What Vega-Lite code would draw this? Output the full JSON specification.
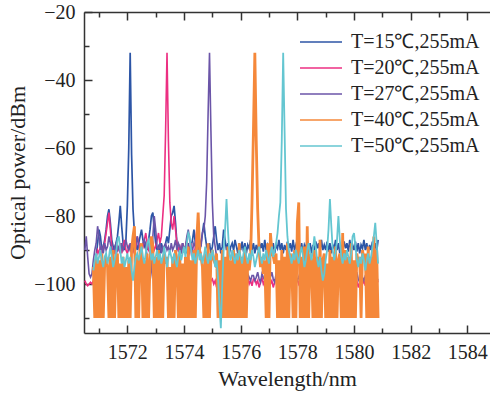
{
"$schema":"https://vega.github.io/schema/vega-lite/v6.json",
"width":406,"height":321,"autosize":"none",
"padding":{"left":84,"top":12,"right":0,"bottom":61},
"config":{"view":{"stroke":null},"font":"Liberation Serif",
"axis":{"labelFont":"Liberation Serif","labelFontSize":20,"labelColor":"#222","titleFont":"Liberation Serif","titleFontSize":22,"titleFontWeight":"normal","titleColor":"#222","domainColor":"#333","tickColor":"#333","domainWidth":1.5,"tickWidth":1.5,"grid":false},
"legend":{"labelFont":"Liberation Serif","labelFontSize":20,"labelColor":"#222"}},
"data":{"values":[
{"w":1570.50,"b":-99,"c":-90},
{"w":1570.55,"b":-100,"c":-86},
{"w":1570.60,"b":-100.5,"c":-92},
{"w":1570.65,"b":-100,"c":-97},
{"w":1570.70,"b":-99.5,"c":-98},
{"w":1570.75,"b":-100,"c":-97},
{"w":1570.80,"b":-99,"c":-93,"d":-95,"e":-96},
{"w":1570.85,"b":-96,"c":-90,"d":-110,"e":-93},
{"w":1570.90,"a":-92,"b":-92,"c":-88,"d":-92,"e":-91},
{"w":1570.95,"a":-88,"b":-90,"c":-83,"d":-110,"e":-94},
{"w":1571.00,"a":-84,"b":-91,"c":-86,"d":-93,"e":-92},
{"w":1571.05,"a":-86,"b":-89,"c":-90,"d":-110,"e":-90},
{"w":1571.10,"a":-90,"b":-91,"c":-89,"d":-91,"e":-93},
{"w":1571.15,"a":-89,"b":-90,"c":-91,"d":-110,"e":-95},
{"w":1571.20,"a":-87,"b":-88,"c":-88,"d":-94,"e":-92},
{"w":1571.25,"a":-84,"b":-85,"c":-90,"d":-92,"e":-91},
{"w":1571.30,"a":-80,"b":-82,"c":-89,"d":-95,"e":-94},
{"w":1571.35,"a":-78,"b":-79,"c":-86,"d":-110,"e":-92},
{"w":1571.40,"a":-82,"b":-84,"c":-88,"d":-92,"e":-89},
{"w":1571.45,"a":-87,"b":-89,"c":-90,"d":-110,"e":-92},
{"w":1571.50,"a":-89,"b":-91,"c":-91,"d":-90,"e":-95},
{"w":1571.55,"a":-91,"b":-90,"c":-89,"d":-110,"e":-93},
{"w":1571.60,"a":-88,"b":-92,"c":-88,"d":-93,"e":-91},
{"w":1571.65,"a":-86,"b":-89,"c":-90,"d":-91,"e":-87},
{"w":1571.70,"a":-82,"b":-90,"c":-89,"d":-110,"e":-86},
{"w":1571.75,"a":-77,"b":-88,"c":-91,"d":-94,"e":-90},
{"w":1571.80,"a":-83,"b":-91,"c":-88,"d":-110,"e":-94},
{"w":1571.85,"a":-88,"b":-89,"c":-90,"d":-92,"e":-92},
{"w":1571.90,"a":-90,"b":-87,"c":-89,"d":-110,"e":-95},
{"w":1571.95,"a":-87,"b":-90,"c":-87,"d":-95,"e":-93},
{"w":1572.00,"a":-77,"b":-91,"c":-89,"d":-110,"e":-91},
{"w":1572.05,"a":-60,"b":-89,"c":-90,"d":-93,"e":-94},
{"w":1572.10,"a":-32,"b":-90,"c":-88,"d":-110,"e":-92},
{"w":1572.15,"a":-62,"b":-88,"c":-91,"d":-90,"e":-96},
{"w":1572.20,"a":-78,"b":-90,"c":-89,"d":-86,"e":-99},
{"w":1572.25,"a":-85,"b":-91,"c":-90,"d":-83,"e":-95},
{"w":1572.30,"a":-88,"b":-89,"c":-88,"d":-110,"e":-92},
{"w":1572.35,"a":-90,"b":-86,"c":-86,"d":-92,"e":-91},
{"w":1572.40,"a":-88,"b":-88,"c":-89,"d":-110,"e":-93},
{"w":1572.45,"a":-86,"b":-90,"c":-91,"d":-90,"e":-91},
{"w":1572.50,"a":-84,"b":-91,"c":-90,"d":-88,"e":-89},
{"w":1572.55,"a":-87,"b":-89,"c":-88,"d":-110,"e":-92},
{"w":1572.60,"a":-89,"b":-87,"c":-87,"d":-93,"e":-94},
{"w":1572.65,"a":-88,"b":-85,"c":-89,"d":-110,"e":-91},
{"w":1572.70,"a":-90,"b":-88,"c":-92,"d":-91,"e":-88},
{"w":1572.75,"a":-87,"b":-90,"c":-95,"d":-110,"e":-87},
{"w":1572.80,"a":-84,"b":-91,"c":-99,"d":-94,"e":-90},
{"w":1572.85,"a":-80,"b":-89,"c":-96,"d":-86,"e":-93},
{"w":1572.90,"a":-79,"b":-88,"c":-86,"d":-89,"e":-91},
{"w":1572.95,"a":-84,"b":-90,"c":-80,"d":-110,"e":-94},
{"w":1573.00,"a":-88,"b":-89,"c":-84,"d":-92,"e":-92},
{"w":1573.05,"a":-90,"b":-87,"c":-89,"d":-110,"e":-90},
{"w":1573.10,"a":-89,"b":-85,"c":-90,"d":-90,"e":-93},
{"w":1573.15,"a":-91,"b":-88,"c":-88,"d":-110,"e":-91},
{"w":1573.20,"a":-88,"b":-86,"c":-91,"d":-93,"e":-94},
{"w":1573.25,"a":-90,"b":-80,"c":-89,"d":-110,"e":-92},
{"w":1573.30,"a":-89,"b":-74,"c":-90,"d":-91,"e":-89},
{"w":1573.35,"a":-88,"b":-55,"c":-88,"d":-94,"e":-92},
{"w":1573.40,"a":-86,"b":-32,"c":-90,"d":-92,"e":-95},
{"w":1573.45,"a":-88,"b":-58,"c":-89,"d":-110,"e":-92},
{"w":1573.50,"a":-84,"b":-76,"c":-91,"d":-95,"e":-90},
{"w":1573.55,"a":-80,"b":-82,"c":-88,"d":-110,"e":-92},
{"w":1573.60,"a":-79,"b":-84,"c":-90,"d":-92,"e":-94},
{"w":1573.65,"a":-77,"b":-80,"c":-89,"d":-110,"e":-91},
{"w":1573.70,"a":-82,"b":-84,"c":-87,"d":-90,"e":-93},
{"w":1573.75,"a":-88,"b":-88,"c":-90,"d":-93,"e":-95},
{"w":1573.80,"a":-90,"b":-90,"c":-88,"d":-110,"e":-92},
{"w":1573.85,"a":-89,"b":-89,"c":-89,"d":-91,"e":-90},
{"w":1573.90,"a":-91,"b":-91,"c":-91,"d":-110,"e":-93},
{"w":1573.95,"a":-88,"b":-88,"c":-88,"d":-94,"e":-91},
{"w":1574.00,"a":-90,"b":-90,"c":-90,"d":-110,"e":-89},
{"w":1574.05,"a":-89,"b":-89,"c":-89,"d":-92,"e":-92},
{"w":1574.10,"a":-91,"b":-87,"c":-86,"d":-110,"e":-88},
{"w":1574.15,"a":-88,"b":-90,"c":-84,"d":-89,"e":-85},
{"w":1574.20,"a":-90,"b":-91,"c":-87,"d":-110,"e":-86},
{"w":1574.25,"a":-89,"b":-88,"c":-89,"d":-93,"e":-90},
{"w":1574.30,"a":-87,"b":-90,"c":-90,"d":-110,"e":-93},
{"w":1574.35,"a":-84,"b":-92,"c":-88,"d":-90,"e":-91},
{"w":1574.40,"a":-88,"b":-89,"c":-89,"d":-110,"e":-94},
{"w":1574.45,"a":-90,"b":-84,"c":-87,"d":-87,"e":-92},
{"w":1574.50,"a":-89,"b":-86,"c":-85,"d":-79,"e":-90},
{"w":1574.55,"a":-91,"b":-90,"c":-87,"d":-90,"e":-93},
{"w":1574.60,"a":-88,"b":-91,"c":-89,"d":-92,"e":-91},
{"w":1574.65,"a":-85,"b":-94,"c":-85,"d":-95,"e":-94},
{"w":1574.70,"a":-82,"b":-97,"c":-84,"d":-110,"e":-92},
{"w":1574.75,"a":-86,"b":-99,"c":-80,"d":-91,"e":-89},
{"w":1574.80,"a":-89,"b":-98.5,"c":-70,"d":-110,"e":-92},
{"w":1574.85,"a":-90,"b":-99,"c":-50,"d":-88,"e":-94},
{"w":1574.90,"a":-88,"b":-100,"c":-32,"d":-110,"e":-91},
{"w":1574.95,"a":-91,"b":-99,"c":-55,"d":-92,"e":-93},
{"w":1575.00,"a":-89,"b":-98.5,"c":-76,"d":-90,"e":-90},
{"w":1575.05,"a":-86,"b":-100,"c":-86,"d":-93,"e":-92},
{"w":1575.10,"a":-83,"b":-99,"c":-89,"d":-94,"e":-95},
{"w":1575.15,"a":-87,"b":-101,"c":-92,"d":-91,"e":-93},
{"w":1575.20,"a":-90,"b":-99.5,"c":-95,"d":-110,"e":-98},
{"w":1575.25,"a":-88,"b":-98,"c":-97,"d":-93,"e":-106},
{"w":1575.30,"a":-91,"b":-100,"c":-98,"d":-110,"e":-113},
{"w":1575.35,"a":-89,"b":-99,"c":-97.5,"d":-90,"e":-100},
{"w":1575.40,"a":-84,"b":-100.5,"c":-99,"d":-110,"e":-90},
{"w":1575.45,"a":-87,"b":-98.5,"c":-97.5,"d":-92,"e":-84},
{"w":1575.50,"a":-90,"b":-98.5,"c":-99,"d":-110,"e":-75},
{"w":1575.55,"a":-88,"b":-100,"c":-98,"d":-89,"e":-84},
{"w":1575.60,"a":-91,"b":-99,"c":-96.5,"d":-110,"e":-91},
{"w":1575.65,"a":-89,"b":-101,"c":-98.5,"d":-93,"e":-93},
{"w":1575.70,"a":-88,"b":-99.5,"c":-99.5,"d":-110,"e":-90},
{"w":1575.75,"a":-90,"b":-98,"c":-97,"d":-90,"e":-92},
{"w":1575.80,"a":-87,"b":-100,"c":-98,"d":-110,"e":-94},
{"w":1575.85,"a":-89,"b":-99,"c":-99,"d":-91,"e":-91},
{"w":1575.90,"a":-91,"b":-100.5,"c":-97.5,"d":-110,"e":-93},
{"w":1575.95,"a":-88,"b":-98.5,"c":-97.5,"d":-88,"e":-90},
{"w":1576.00,"a":-90,"b":-98.5,"c":-99,"d":-110,"e":-92},
{"w":1576.05,"a":-87.5,"b":-100,"c":-98,"d":-92,"e":-94},
{"w":1576.10,"a":-90.5,"b":-99,"c":-96.5,"d":-110,"e":-91},
{"w":1576.15,"a":-88,"b":-101,"c":-98.5,"d":-90,"e":-89},
{"w":1576.20,"a":-91,"b":-99.5,"c":-99.5,"d":-110,"e":-92},
{"w":1576.25,"a":-88.5,"b":-98,"c":-97,"d":-93,"e":-94},
{"w":1576.30,"a":-89.5,"b":-100,"c":-98,"d":-96,"e":-91},
{"w":1576.35,"a":-87,"b":-99,"c":-99,"d":-92,"e":-93},
{"w":1576.40,"a":-90,"b":-100.5,"c":-97.5,"d":-76,"e":-90},
{"w":1576.45,"a":-88,"b":-98.5,"c":-97.5,"d":-55,"e":-92},
{"w":1576.50,"a":-91,"b":-98.5,"c":-99,"d":-32,"e":-95},
{"w":1576.55,"a":-88.5,"b":-100,"c":-98,"d":-58,"e":-93},
{"w":1576.60,"a":-90,"b":-99,"c":-96.5,"d":-78,"e":-91},
{"w":1576.65,"a":-87.5,"b":-101,"c":-98.5,"d":-90,"e":-89},
{"w":1576.70,"a":-89.5,"b":-99.5,"c":-99.5,"d":-95,"e":-92},
{"w":1576.75,"a":-88,"b":-98,"c":-97,"d":-92,"e":-94},
{"w":1576.80,"a":-90.5,"b":-100,"c":-98,"d":-97,"e":-91},
{"w":1576.85,"a":-87,"b":-99,"c":-99,"d":-93,"e":-93},
{"w":1576.90,"a":-90,"b":-100.5,"c":-97.5,"d":-110,"e":-90},
{"w":1576.95,"a":-88.5,"b":-98.5,"c":-97.5,"d":-88,"e":-92},
{"w":1577.00,"a":-90,"b":-98.5,"c":-99,"d":-110,"e":-94},
{"w":1577.05,"a":-87.5,"b":-100,"c":-98,"d":-85,"e":-91},
{"w":1577.10,"a":-90.5,"b":-99,"c":-96.5,"d":-90,"e":-89},
{"w":1577.15,"a":-88,"b":-101,"c":-98.5,"d":-92,"e":-92},
{"w":1577.20,"a":-91,"b":-99.5,"c":-99.5,"d":-94,"e":-90},
{"w":1577.25,"a":-88.5,"b":-98,"c":-97,"d":-91,"e":-88},
{"w":1577.30,"a":-89.5,"b":-100,"c":-98,"d":-110,"e":-85},
{"w":1577.35,"a":-87,"b":-99,"c":-99,"d":-93,"e":-80},
{"w":1577.40,"a":-90,"b":-100.5,"c":-97.5,"d":-110,"e":-76},
{"w":1577.45,"a":-88,"b":-98.5,"c":-97.5,"d":-90,"e":-58},
{"w":1577.50,"a":-91,"b":-98.5,"c":-99,"d":-110,"e":-32},
{"w":1577.55,"a":-88.5,"b":-100,"c":-98,"d":-92,"e":-55},
{"w":1577.60,"a":-90,"b":-99,"c":-96.5,"d":-110,"e":-78},
{"w":1577.65,"a":-87.5,"b":-101,"c":-98.5,"d":-88,"e":-86},
{"w":1577.70,"a":-89.5,"b":-99.5,"c":-99.5,"d":-110,"e":-90},
{"w":1577.75,"a":-88,"b":-98,"c":-97,"d":-91,"e":-92},
{"w":1577.80,"a":-90.5,"b":-100,"c":-98,"d":-93,"e":-94},
{"w":1577.85,"a":-87,"b":-99,"c":-99,"d":-110,"e":-91},
{"w":1577.90,"a":-90,"b":-100.5,"c":-97.5,"d":-90,"e":-93},
{"w":1577.95,"a":-88.5,"b":-98.5,"c":-97.5,"d":-110,"e":-90},
{"w":1578.00,"a":-90,"b":-98.5,"c":-99,"d":-82,"e":-92},
{"w":1578.05,"a":-87.5,"b":-100,"c":-98,"d":-76,"e":-94},
{"w":1578.10,"a":-90.5,"b":-99,"c":-96.5,"d":-110,"e":-91},
{"w":1578.15,"a":-88,"b":-101,"c":-98.5,"d":-92,"e":-89},
{"w":1578.20,"a":-91,"b":-99.5,"c":-99.5,"d":-110,"e":-92},
{"w":1578.25,"a":-88.5,"b":-98,"c":-97,"d":-89,"e":-95},
{"w":1578.30,"a":-89.5,"b":-100,"c":-98,"d":-110,"e":-93},
{"w":1578.35,"a":-87,"b":-99,"c":-99,"d":-83,"e":-90},
{"w":1578.40,"a":-90,"b":-100.5,"c":-97.5,"d":-110,"e":-88},
{"w":1578.45,"a":-88,"b":-98.5,"c":-97.5,"d":-91,"e":-91},
{"w":1578.50,"a":-91,"b":-98.5,"c":-99,"d":-93,"e":-93},
{"w":1578.55,"a":-88.5,"b":-100,"c":-98,"d":-110,"e":-90},
{"w":1578.60,"a":-90,"b":-99,"c":-96.5,"d":-90,"e":-86},
{"w":1578.65,"a":-87.5,"b":-101,"c":-98.5,"d":-110,"e":-89},
{"w":1578.70,"a":-89.5,"b":-99.5,"c":-99.5,"d":-92,"e":-93},
{"w":1578.75,"a":-88,"b":-98,"c":-97,"d":-110,"e":-95},
{"w":1578.80,"a":-90.5,"b":-100,"c":-98,"d":-87,"e":-92},
{"w":1578.85,"a":-87,"b":-99,"c":-99,"d":-110,"e":-96},
{"w":1578.90,"a":-90,"b":-100.5,"c":-97.5,"d":-93,"e":-99},
{"w":1578.95,"a":-88.5,"b":-98.5,"c":-97.5,"d":-91,"e":-97},
{"w":1579.00,"a":-90,"b":-98.5,"c":-99,"d":-110,"e":-93},
{"w":1579.05,"a":-87.5,"b":-100,"c":-98,"d":-94,"e":-90},
{"w":1579.10,"a":-90.5,"b":-99,"c":-96.5,"d":-110,"e":-84},
{"w":1579.15,"a":-88,"b":-101,"c":-98.5,"d":-90,"e":-75},
{"w":1579.20,"a":-91,"b":-99.5,"c":-99.5,"d":-110,"e":-83},
{"w":1579.25,"a":-88.5,"b":-98,"c":-97,"d":-92,"e":-90},
{"w":1579.30,"a":-89.5,"b":-100,"c":-98,"d":-110,"e":-93},
{"w":1579.35,"a":-87,"b":-99,"c":-99,"d":-89,"e":-91},
{"w":1579.40,"a":-90,"b":-100.5,"c":-97.5,"d":-110,"e":-87},
{"w":1579.45,"a":-88,"b":-98.5,"c":-97.5,"d":-93,"e":-80},
{"w":1579.50,"a":-91,"b":-98.5,"c":-99,"d":-91,"e":-87},
{"w":1579.55,"a":-88.5,"b":-100,"c":-98,"d":-110,"e":-92},
{"w":1579.60,"a":-90,"b":-99,"c":-96.5,"d":-85,"e":-94},
{"w":1579.65,"a":-87.5,"b":-101,"c":-98.5,"d":-110,"e":-91},
{"w":1579.70,"a":-89.5,"b":-99.5,"c":-99.5,"d":-90,"e":-93},
{"w":1579.75,"a":-88,"b":-98,"c":-97,"d":-110,"e":-90},
{"w":1579.80,"a":-90.5,"b":-100,"c":-98,"d":-92,"e":-92},
{"w":1579.85,"a":-87,"b":-99,"c":-99,"d":-110,"e":-94},
{"w":1579.90,"a":-90,"b":-100.5,"c":-97.5,"d":-88,"e":-91},
{"w":1579.95,"a":-88.5,"b":-98.5,"c":-97.5,"d":-110,"e":-86},
{"w":1580.00,"a":-90,"b":-98.5,"c":-99,"d":-93,"e":-85},
{"w":1580.05,"a":-87.5,"b":-100,"c":-98,"d":-110,"e":-89},
{"w":1580.10,"a":-90.5,"b":-99,"c":-96.5,"d":-91,"e":-93},
{"w":1580.15,"a":-88,"b":-101,"c":-98.5,"d":-94,"e":-95},
{"w":1580.20,"a":-91,"b":-99.5,"c":-99.5,"d":-92,"e":-92},
{"w":1580.25,"a":-88.5,"b":-98,"c":-97,"d":-110,"e":-94},
{"w":1580.30,"a":-89.5,"b":-100,"c":-98,"d":-90,"e":-91},
{"w":1580.35,"a":-87,"b":-99,"c":-99,"d":-93,"e":-93},
{"w":1580.40,"a":-90,"b":-100.5,"c":-97.5,"d":-91,"e":-96},
{"w":1580.45,"a":-88,"b":-98.5,"c":-97.5,"d":-110,"e":-93},
{"w":1580.50,"a":-91,"b":-98.5,"c":-99,"d":-89,"e":-91},
{"w":1580.55,"a":-88.5,"b":-100,"c":-98,"d":-110,"e":-94},
{"w":1580.60,"a":-90,"b":-99,"c":-96.5,"d":-92,"e":-92},
{"w":1580.65,"a":-87.5,"b":-101,"c":-98.5,"d":-110,"e":-89},
{"w":1580.70,"a":-89.5,"b":-99.5,"c":-99.5,"d":-86,"e":-86},
{"w":1580.75,"a":-88,"b":-98,"c":-97,"d":-110,"e":-82},
{"w":1580.80,"a":-90.5,"b":-100,"c":-98,"d":-90,"e":-88},
{"w":1580.85,"a":-87,"b":-99,"c":-99,"d":-110,"e":-94}
]},
"transform":[
{"fold":["a","b","c","d","e"],"as":["k","p"]},
{"filter":"isValid(datum.p)"},
{"lookup":"k","from":{"data":{"values":[{"k":"a","name":"T=15℃,255mA"},{"k":"b","name":"T=20℃,255mA"},{"k":"c","name":"T=27℃,255mA"},{"k":"d","name":"T=40℃,255mA"},{"k":"e","name":"T=50℃,255mA"}]},"key":"k","fields":["name"]}}
],
"layer":[
{"encoding":{
"x":{"field":"w","type":"quantitative","scale":{"domain":[1570.47,1584.8],"nice":false,"zero":false},
"axis":{"orient":"bottom","values":[1571,1572,1573,1574,1575,1576,1577,1578,1579,1580,1581,1582,1583,1584],"labelExpr":"datum.value % 2 === 0 ? datum.label : ''","format":"d","tickSize":{"condition":{"test":"datum.value % 2 === 0","value":-8},"value":-5},"labelPadding":17,"title":"Wavelength/nm","titlePadding":6}},
"y":{"field":"p","type":"quantitative","scale":{"domain":[-114.4,-20],"nice":false,"zero":false},
"axis":{"values":[-110,-100,-90,-80,-70,-60,-50,-40,-30,-20],"labelExpr":"datum.value % 20 === 0 ? datum.label : ''","tickSize":{"condition":{"test":"datum.value % 20 === 0","value":-8},"value":-5},"labelPadding":17,"title":"Optical power/dBm","titlePadding":4}},
"color":{"field":"name","type":"nominal","scale":{"domain":["T=15℃,255mA","T=20℃,255mA","T=27℃,255mA","T=40℃,255mA","T=50℃,255mA"],"range":["#2c55a6","#ec2f82","#6b55a8","#f5883a","#64c6d1"]},
"legend":{"orient":"none","legendX":227,"legendY":20,"title":null,"symbolType":"M-3,0H3","symbolSize":196,"symbolStrokeWidth":1.5,"labelOffset":20,"rowPadding":6,"padding":0,"labelFont":"Liberation Serif","labelFontSize":20}}},
"layer":[
{"transform":[{"filter":"datum.k === 'a'"}],"mark":{"type":"line","strokeWidth":1.7}},
{"transform":[{"filter":"datum.k === 'b'"}],"mark":{"type":"line","strokeWidth":1.6}},
{"transform":[{"filter":"datum.k === 'c'"}],"mark":{"type":"line","strokeWidth":1.6}},
{"transform":[{"filter":"datum.k === 'd'"}],"mark":{"type":"line","strokeWidth":2.8}},
{"transform":[{"filter":"datum.k === 'e'"}],"mark":{"type":"line","strokeWidth":1.8}}
]},
{"mark":{"type":"point","opacity":0},
"encoding":{"x":{"field":"w","type":"quantitative","scale":{"domain":[1570.47,1584.8],"nice":false,"zero":false},
"axis":{"orient":"top","values":[1571,1572,1573,1574,1575,1576,1577,1578,1579,1580,1581,1582,1583,1584],"labels":false,"title":null,"tickSize":{"condition":{"test":"datum.value % 2 === 0","value":-8},"value":-5}}}}}
],
"resolve":{"scale":{"x":"independent"}}
}
